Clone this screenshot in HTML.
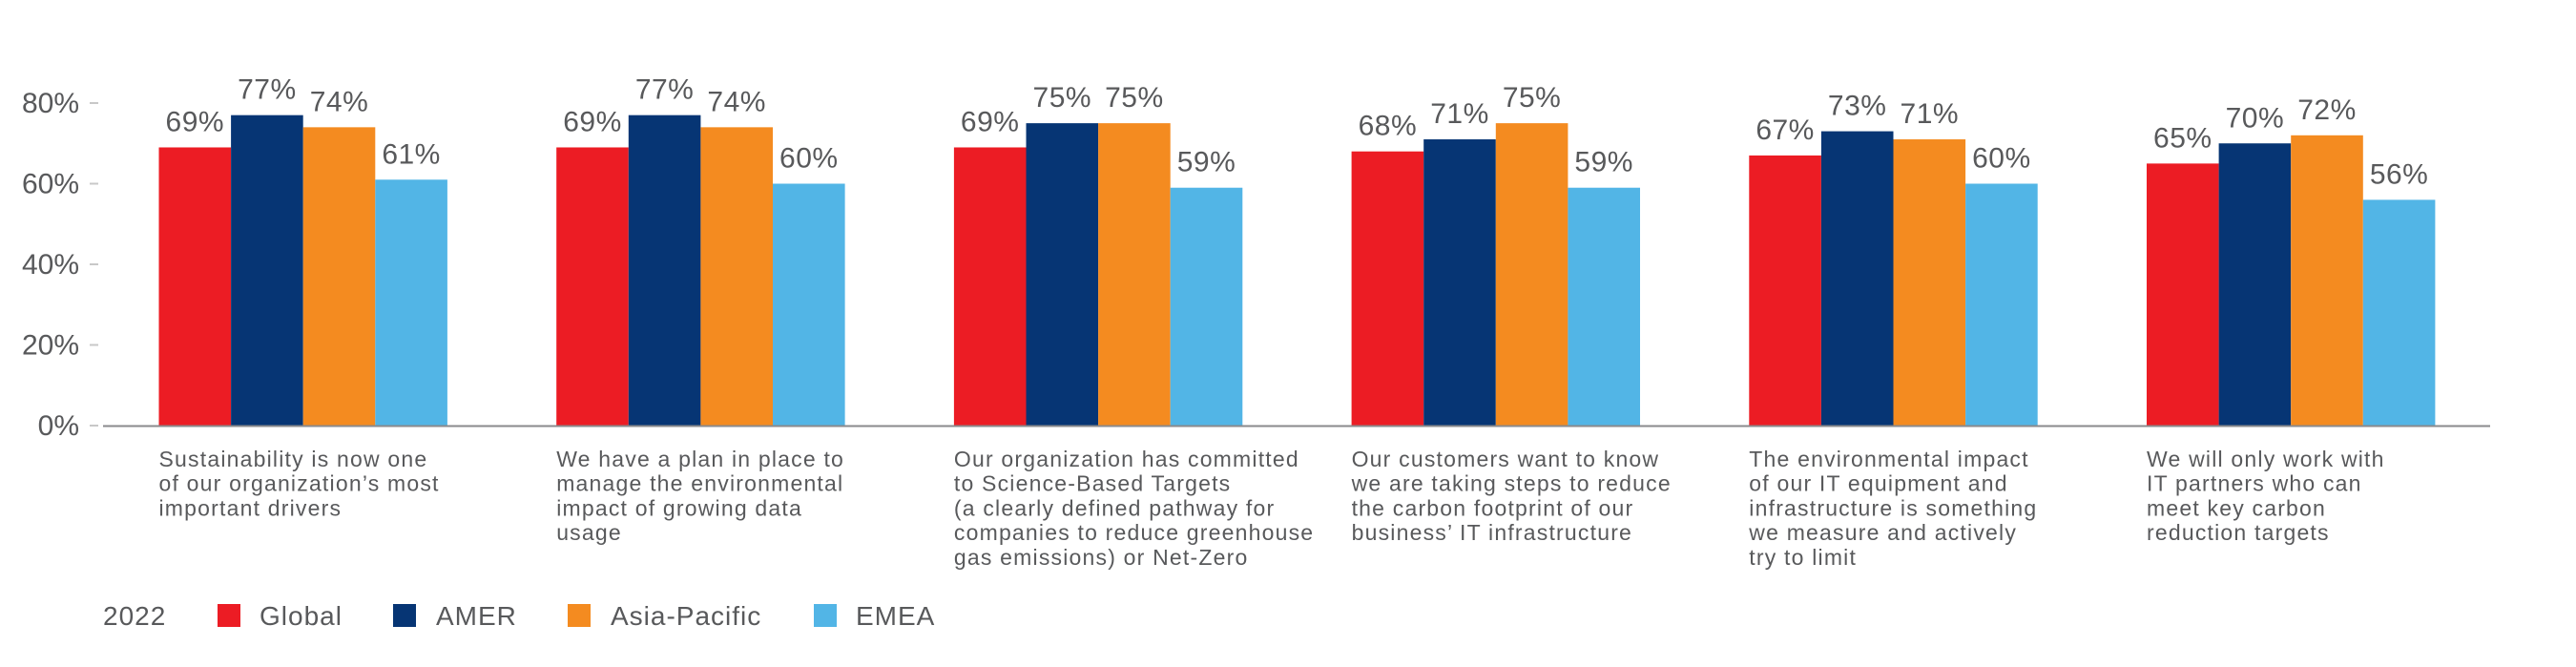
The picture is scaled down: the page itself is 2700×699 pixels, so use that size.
<!DOCTYPE html>
<html><head><meta charset="utf-8"><style>
html,body{margin:0;padding:0;background:#fff;}
svg{display:block;}
text{font-family:"Liberation Sans",sans-serif;fill:#58595b;}
</style></head><body>
<svg width="2700" height="699" viewBox="0 0 2700 699" xmlns="http://www.w3.org/2000/svg">
<g font-size="30" text-anchor="end">
<text x="83" y="456">0%</text>
<text x="83" y="371.5">20%</text>
<text x="83" y="287">40%</text>
<text x="83" y="202.5">60%</text>
<text x="83" y="118">80%</text>
</g>
<g stroke="#c8c8c8" stroke-width="2">
<line x1="94" x2="103" y1="446" y2="446"/>
<line x1="94" x2="103" y1="361.5" y2="361.5"/>
<line x1="94" x2="103" y1="277" y2="277"/>
<line x1="94" x2="103" y1="192.5" y2="192.5"/>
<line x1="94" x2="103" y1="108" y2="108"/>
</g>
<g id="bars"></g>
<line x1="108" x2="2610" y1="446.5" y2="446.5" stroke="#8a8a8c" stroke-width="2"/>
<g id="labels" font-size="30" text-anchor="middle" letter-spacing="0.5"></g>
<g id="cats" font-size="23" letter-spacing="1.2"></g>
<g font-size="28" letter-spacing="1">
<text x="108" y="655">2022</text>
<rect x="228" y="633" width="24" height="24" fill="#ec1c24"/><text x="272" y="655">Global</text>
<rect x="412" y="633" width="24" height="24" fill="#063574"/><text x="457" y="655">AMER</text>
<rect x="595" y="633" width="24" height="24" fill="#f48b20"/><text x="640" y="655">Asia-Pacific</text>
<rect x="853" y="633" width="24" height="24" fill="#52b5e6"/><text x="897" y="655">EMEA</text>
</g>
</svg>
<script>
var data=[[69,77,74,61],[69,77,74,60],[69,75,75,59],[68,71,75,59],[67,73,71,60],[65,70,72,56]];
var cats=[["Sustainability is now one","of our organization’s most","important drivers"],
["We have a plan in place to","manage the environmental","impact of growing data","usage"],
["Our organization has committed","to Science-Based Targets","(a clearly defined pathway for","companies to reduce greenhouse","gas emissions) or Net-Zero"],
["Our customers want to know","we are taking steps to reduce","the carbon footprint of our","business’ IT infrastructure"],
["The environmental impact","of our IT equipment and","infrastructure is something","we measure and actively","try to limit"],
["We will only work with","IT partners who can","meet key carbon","reduction targets"]];
var cols=["#ec1c24","#063574","#f48b20","#52b5e6"];
var NS="http://www.w3.org/2000/svg";
var bars=document.getElementById("bars"),labs=document.getElementById("labels"),cg=document.getElementById("cats");
for(var g=0;g<6;g++){var x0=166.5+416.7*g;
for(var k=0;k<4;k++){var v=data[g][k],h=v*4.225,x=x0+75.6*k;
var r=document.createElementNS(NS,"rect");r.setAttribute("x",x);r.setAttribute("y",446-h);r.setAttribute("width",75.6);r.setAttribute("height",h);r.setAttribute("fill",cols[k]);bars.appendChild(r);
var t=document.createElementNS(NS,"text");t.setAttribute("x",x+37.8);t.setAttribute("y",446-h-17);t.textContent=v+"%";labs.appendChild(t);}
for(var i=0;i<cats[g].length;i++){var t=document.createElementNS(NS,"text");t.setAttribute("x",x0);t.setAttribute("y",489+25.7*i);t.textContent=cats[g][i];cg.appendChild(t);}}
</script>
</body></html>
